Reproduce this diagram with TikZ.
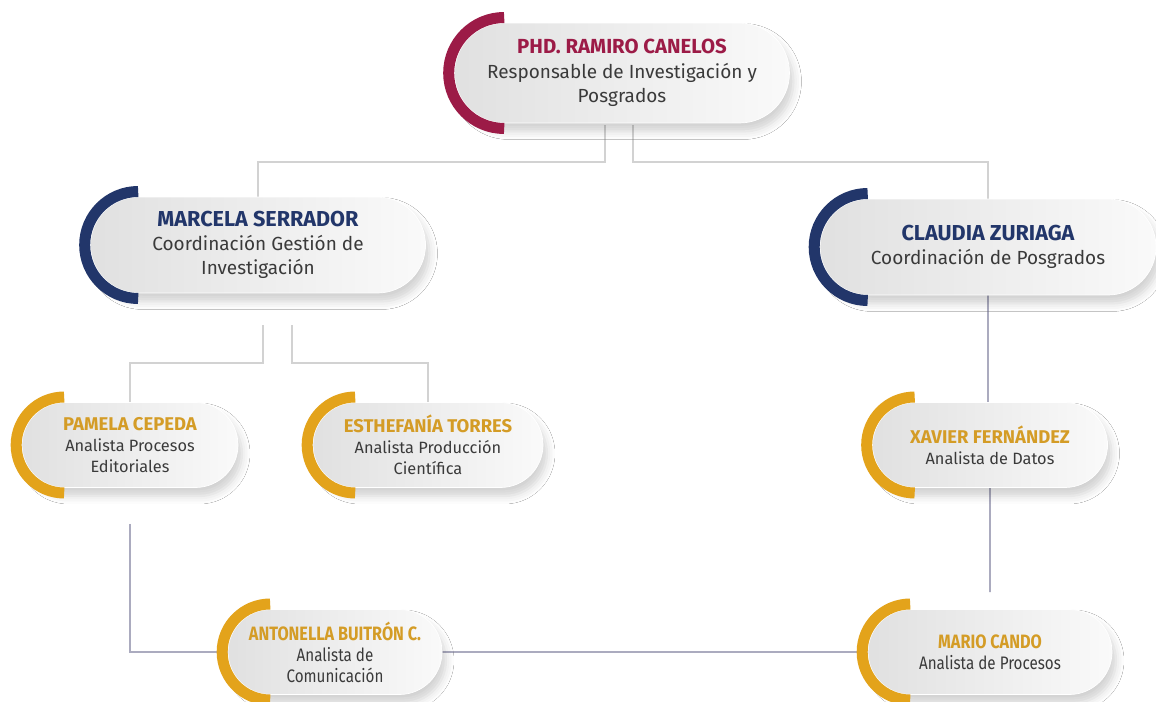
\documentclass[tikz,border=0pt]{standalone}
\usepackage{fontspec}
\setmainfont{Fira Sans}
\newfontfamily\angosta[FakeStretch=0.84]{Fira Sans}
\usepackage{tikz}
\usetikzlibrary{calc,shapes.misc,shadows.blur,backgrounds}
\definecolor{vino}{HTML}{9C1B47}
\definecolor{azul}{HTML}{22366A}
\definecolor{oro}{HTML}{E3A31B}
\definecolor{orotxt}{HTML}{D49C26}
\definecolor{texto}{HTML}{3A3A3A}
\definecolor{gris}{HTML}{D2D2D2}
\definecolor{lila}{HTML}{ABABBF}
\tikzset{
    cargo/.style={
           rounded rectangle,
           draw=white, line width=0.4pt,
           left color=gray!24, right color=gray!4,
           blur shadow={shadow xshift=0.08cm, shadow yshift=-0.17cm,
                        shadow blur radius=0.16cm, shadow opacity=18},
           text=texto,
           align=center,
           inner sep=0pt},
    jefe/.style={
           cargo,
           minimum width=6.7cm, minimum height=1.92cm,
           font=\fontsize{10.8}{13.8}\selectfont},
    analista/.style={
           cargo,
           minimum height=1.7cm,
           font=\fontsize{9.3}{11.8}\selectfont},
    linea/.style={
           draw=gris,
           line width=1.1pt},
    linea2/.style={
           draw=lila,
           line width=1.1pt}
}
% arco de color a la izquierda de cada cargo
\newcommand{\arco}[3]{%
    \draw[#2, line width=0.22cm] ([xshift=#3]#1.west) ++(90:#3+0.11cm)
        arc[start angle=90, end angle=270, radius=#3+0.11cm];}
\newcommand{\nombre}[3]{{\color{#1}\fontsize{#2}{13}\bfseries #3}}

\begin{document}
\begin{tikzpicture}[x=0.02cm, y=-0.02cm]
        \useasboundingbox (0,0) rectangle (1156,702);

        \node[jefe, minimum height=2cm] (rc) at (622,73) {\nombre{vino}{11.6}{PHD. RAMIRO CANELOS}\\ Responsable de Investigación y\\ Posgrados};
        \node[jefe] (ms) at (258,245) {\nombre{azul}{12.3}{MARCELA SERRADOR}\\ Coordinación Gestión de\\ Investigación};
        \node[jefe, minimum width=6.72cm] (cz) at (988,247) {\nombre{azul}{12.3}{CLAUDIA ZURIAGA}\\ Coordinación de Posgrados};

        \node[analista, minimum width=4.32cm] (pc) at (130,445) {\nombre{orotxt}{10.5}{PAMELA CEPEDA}\\ Analista Procesos\\ Editoriales};
        \node[analista, minimum width=4.6cm] (et) at (428,445) {\nombre{orotxt}{10.5}{ESTHEFANÍA TORRES}\\ Analista Producción\\ Científica};
        \node[analista, minimum width=4.7cm] (xf) at (990,445) {\nombre{orotxt}{10.5}{XAVIER FERNÁNDEZ}\\ Analista de Datos};

        \node[analista, minimum width=4.28cm, font=\angosta\fontsize{10.3}{12}\selectfont] (ab) at (335,652) {\nombre{orotxt}{11}{ANTONELLA BUITRÓN C.}\\ Analista de\\ Comunicación};
        \node[analista, minimum width=4.88cm, font=\angosta\fontsize{10.3}{12}\selectfont] (mc) at (xf |- ab) {\nombre{orotxt}{11}{MARIO CANDO}\\ Analista de Procesos};

        \arco{rc}{vino}{1cm}
        \arco{ms}{azul}{0.96cm}
        \arco{cz}{azul}{0.96cm}
        \arco{pc}{oro}{0.85cm}
        \arco{et}{oro}{0.85cm}
        \arco{xf}{oro}{0.85cm}
        \arco{ab}{oro}{0.85cm}
        \arco{mc}{oro}{0.85cm}

        \begin{pgfonlayer}{background}
        \fill[white] (0,0) rectangle (1156,702);
        \draw[linea] ([shift={(-17,2)}]rc.south) -- ++(0,37) -| (ms);
        \draw[linea] ([shift={(11,2)}]rc.south) -- ++(0,37) -| (cz);
        \draw[linea] ([shift={(5,32)}]ms.south) -- ++(0,38) -| (pc);
        \draw[linea] ([shift={(34,32)}]ms.south) -- ++(0,38) -| (et);
        \draw[linea2] (cz) -- (cz |- xf);
        \draw[linea2] (xf) -- ($(xf |- mc.north)+(0,-17)$);
        \draw[linea2] ([shift={(0,36)}]pc.south) |- (ab);
        \draw[linea2] (ab) -- (mc);
        \end{pgfonlayer}
    \end{tikzpicture}
\end{document}
